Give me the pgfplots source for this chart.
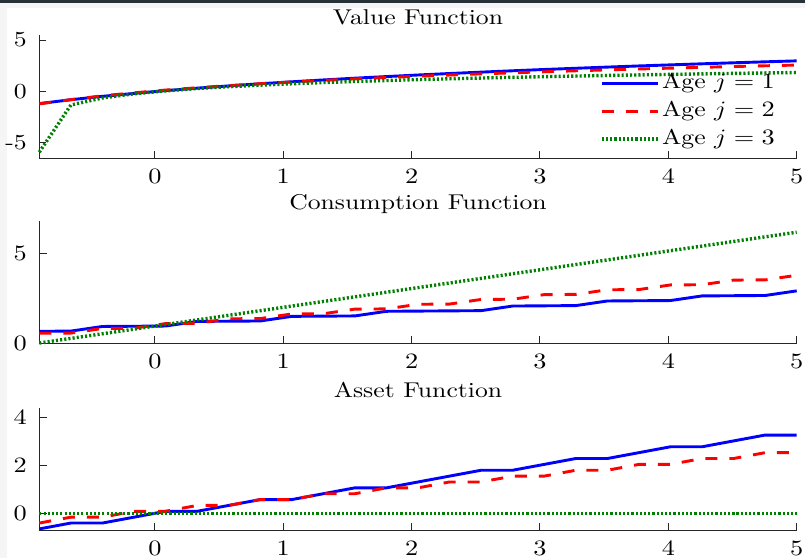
\documentclass[border=0pt]{standalone}
\usepackage{pgfplots}
\pgfplotsset{compat=1.18}
\usepackage{pgfplotstable}
\definecolor{mgreen}{rgb}{0,0.5,0}
\definecolor{band}{RGB}{38,50,56}
\newcommand{\fs}{\fontsize{10.7}{12.5}\selectfont}
\newcommand{\sx}[1]{\scalebox{1.2}[1]{#1}}

\pgfplotstableread{
a v1 v2 v3
-0.9 -1.2135 -1.2381 -5.96
-0.65417 -0.8324 -0.8306 -1.3543
-0.40833 -0.5050 -0.4490 -0.6612
-0.1625 -0.2179 -0.1607 -0.2557
0.08333 0.0534 0.1112 0.0320
0.32917 0.2940 0.3344 0.2551
0.575 0.5162 0.5458 0.4375
0.82083 0.7270 0.7281 0.5916
1.06667 0.9173 0.9011 0.7251
1.3125 1.0987 1.0551 0.8429
1.55833 1.2711 1.2014 0.9483
1.80417 1.4285 1.3347 1.0436
2.05 1.5817 1.4616 1.1306
2.29583 1.7276 1.5793 1.2106
2.54167 1.8611 1.6913 1.2848
2.7875 1.9944 1.7964 1.3538
3.03333 2.1209 1.8966 1.4183
3.27917 2.2386 1.9917 1.4789
3.525 2.3549 2.0824 1.5361
3.77083 2.4665 2.1692 1.5901
4.01667 2.5716 2.2520 1.6414
4.2625 2.6748 2.3318 1.6902
4.50833 2.7746 2.4080 1.7367
4.75417 2.8696 2.4820 1.7812
5.0 2.9623 2.5525 1.8238
}\valtab

\pgfplotstableread{
a c1 c2 c3
-0.9 0.65417 0.54333 0.0
-0.65417 0.66646 0.55562 0.25812
-0.40833 0.92458 0.81375 0.51625
-0.1625 0.93688 0.82604 0.77438
0.08333 0.94917 1.08417 1.0325
0.32917 1.20729 1.09646 1.29063
0.575 1.21958 1.35458 1.54875
0.82083 1.23188 1.36688 1.80688
1.06667 1.49 1.625 2.065
1.3125 1.50229 1.63729 2.32313
1.55833 1.51458 1.89542 2.58125
1.80417 1.77271 1.90771 2.83938
2.05 1.785 2.16583 3.0975
2.29583 1.79729 2.17813 3.35563
2.54167 1.80958 2.43625 3.61375
2.7875 2.06771 2.44854 3.87188
3.03333 2.08 2.70667 4.13
3.27917 2.09229 2.71896 4.38813
3.525 2.35042 2.97708 4.64625
3.77083 2.36271 2.98938 4.90438
4.01667 2.375 3.2475 5.1625
4.2625 2.63313 3.25979 5.42063
4.50833 2.64542 3.51792 5.67875
4.75417 2.65771 3.53021 5.93688
5.0 2.91583 3.78833 6.195
}\contab

\pgfplotstableread{
a s1 s2 s3
-0.9 -0.65417 -0.40833 0
-0.65417 -0.40833 -0.1625 0
-0.40833 -0.40833 -0.1625 0
-0.1625 -0.1625 0.08333 0
0.08333 0.08333 0.08333 0
0.32917 0.08333 0.32917 0
0.575 0.32917 0.32917 0
0.82083 0.575 0.575 0
1.06667 0.575 0.575 0
1.3125 0.82083 0.82083 0
1.55833 1.06667 0.82083 0
1.80417 1.06667 1.06667 0
2.05 1.3125 1.06667 0
2.29583 1.55833 1.3125 0
2.54167 1.80417 1.3125 0
2.7875 1.80417 1.55833 0
3.03333 2.05 1.55833 0
3.27917 2.29583 1.80417 0
3.525 2.29583 1.80417 0
3.77083 2.54167 2.05 0
4.01667 2.7875 2.05 0
4.2625 2.7875 2.29583 0
4.50833 3.03333 2.29583 0
4.75417 3.27917 2.54167 0
5.0 3.27917 2.54167 0
}\asstab

\pgfplotsset{
  every axis title shift=0pt,
  panel/.style={
    scale only axis, width=378.7pt, anchor=north west,
    xmin=-0.9, xmax=5, xtick={0,1,2,3,4,5},
    axis lines*=left, axis line style={-, black!85, line width=0.5pt},
    tick align=inside, major tick length=3.6pt,
    tick style={black!85, line width=0.5pt},
    tick label style={font=\fs, inner sep=0pt, xscale=1.2},
    xticklabel style={yshift=-5.5pt},
    yticklabel style={xshift=-5pt},
    title style={font=\fs, xscale=1.2, at={(0.5,1)}, anchor=base, yshift=5.4pt},
    clip=false,
  },
  sb/.style={blue, line width=1.45pt},
  sr/.style={red, line width=1.45pt, dash pattern=on 6pt off 6pt},
  sg/.style={mgreen, line width=1.7pt, dash pattern=on 1.05pt off 1.05pt},
}

\begin{document}
\begin{tikzpicture}
\useasboundingbox (0,0) rectangle (402.5pt,-279pt);
\fill[black!4] (0,0) rectangle (402.5pt,-279pt);
\fill[white] (3.65pt,-4pt) rectangle (402.5pt,-279pt);
\fill[band] (0,0) rectangle (402.5pt,-1.4pt);

\begin{axis}[panel, at={(19.65pt,-17.5pt)}, height=61.5pt,
  ymin=-6.53, ymax=5.49, ytick={-5,0,5}, yticklabels={-5,0,5},
  title={Value Function},
  legend cell align=left,
  legend image code/.code={\draw[#1] (0pt,0pt) -- (28.3pt,0pt);},
  legend style={at={(0.740,0.705)}, anchor=north west, draw=none, fill=none,
    inner sep=0pt, row sep=2.6pt, font=\fs,
    nodes={inner sep=1pt, text height=7.2pt, text depth=2.2pt}}]
\addplot[sb] table[x=a, y=v1] {\valtab};
\addlegendentry{\sx{Age $j=1$}}
\addplot[sr] table[x=a, y=v2] {\valtab};
\addlegendentry{\sx{Age $j=2$}}
\addplot[sg] table[x=a, y=v3] {\valtab};
\addlegendentry{\sx{Age $j=3$}}
\end{axis}

\begin{axis}[panel, at={(19.65pt,-110.35pt)}, height=61.15pt,
  ymin=0, ymax=6.84, ytick={0,5},
  title={Consumption Function}]
\addplot[sb] table[x=a, y=c1] {\contab};
\addplot[sr] table[x=a, y=c2] {\contab};
\addplot[sg] table[x=a, y=c3] {\contab};
\end{axis}

\begin{axis}[panel, at={(19.65pt,-204.15pt)}, height=60.85pt,
  ymin=-0.70, ymax=4.40, ytick={0,2,4},
  title={Asset Function}]
\addplot[sb] table[x=a, y=s1] {\asstab};
\addplot[sr] table[x=a, y=s2] {\asstab};
\addplot[sg] table[x=a, y=s3] {\asstab};
\end{axis}
\end{tikzpicture}
\end{document}
